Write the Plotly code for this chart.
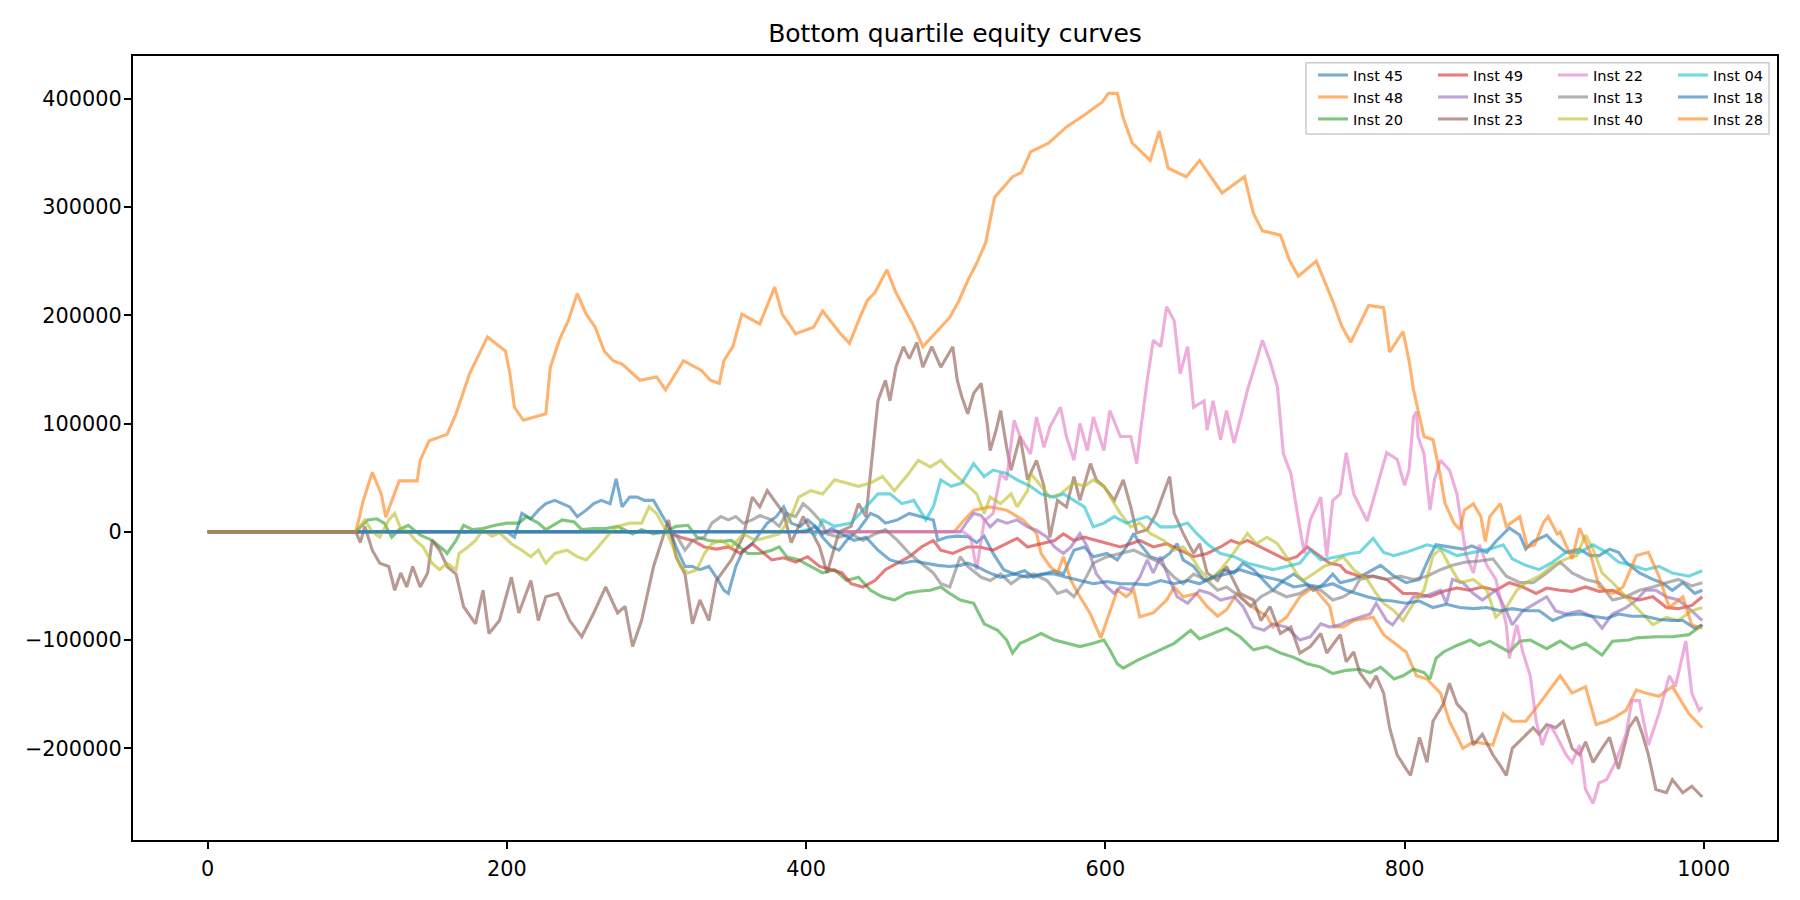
import plotly.graph_objects as go

# ---------------- data (step index, equity) ----------------
inst_45 = [(0,0),(200,0),(205,-5000),(210,17000),(216,12000),(221,20000),(226,26000),(232,29000),(237,26000),(242,23000),(247,14000),(253,20000),(258,26000),(263,29000),(269,26000),(273,49000),(277,23000),(282,32000),(287,32000),(292,29000),(298,29000),(303,17000),(308,5000),(313,-14000),(319,-32000),(324,-32000),(329,-35000),(335,-32000),(340,-42000),(345,-54000),(348,-57000),(353,-32000),(358,-17000),(364,-11000),(369,-2000),(374,8000),(380,14000),(385,23000),(390,8000),(396,5000),(401,11000),(406,5000),(411,-5000),(417,-14000),(422,-17000),(427,-8000),(435,2000),(443,17000),(448,14000),(453,8000),(461,11000),(469,17000),(477,14000),(485,11000),(488,-8000),(494,-5000),(501,-4000),(508,-4500),(514,-10000),(519,-4000),(525,-20000),(532,-35000),(539,-39000),(546,-36000),(552,-42000),(559,-39000),(566,-36000),(572,-39000),(579,-17000),(586,-14000),(592,-23000),(601,-20000),(608,-26000),(614,-14000),(619,-1500),(623,-11000),(630,-23000),(637,-26000),(643,-20000),(648,-11000),(652,-26000),(659,-32000),(666,-45000),(672,-42000),(679,-35000),(686,-38000),(692,-29000),(699,-35000),(706,-45000),(712,-54000),(719,-45000),(726,-39000),(732,-45000),(739,-54000),(746,-48000),(752,-39000),(757,-47000),(766,-44000),(775,-38000),(784,-31000),(793,-41000),(801,-47000),(810,-44000),(817,-22000),(821,-12000),(830,-14000),(839,-16000),(845,-13000),(850,-16000),(855,-19000),(861,-9000),(870,3500),(877,-3000),(881,-16000),(886,-9000),(895,-3000),(899,-9000),(908,-19000),(917,-16000),(924,-22000),(930,-22000),(937,-16000),(943,-19000),(948,-28000),(957,-38000),(966,-44000),(972,-47000),(979,-54000),(986,-47000),(994,-57000),(999,-54000)]

inst_48 = [(0,0),(499,0),(505,10000),(512,20000),(523,23000),(534,20000),(545,11000),(554,-1500),(557,-20000),(563,-32000),(568,-38000),(572,-23000),(577,-45000),(583,-60000),(590,-76000),(597,-98000),(601,-82000),(608,-54000),(614,-60000),(619,-54000),(623,-78500),(632,-75000),(641,-63000),(646,-51000),(652,-60000),(661,-57000),(668,-69000),(675,-78000),(681,-72000),(688,-57000),(695,-66000),(701,-72000),(708,-78000),(712,-88000),(721,-79000),(730,-60000),(739,-51000),(750,-69000),(753,-88000),(759,-88000),(766,-82000),(779,-79000),(786,-95000),(801,-111000),(808,-133000),(815,-136000),(824,-149000),(830,-175000),(839,-200000),(846,-194000),(859,-197000),(866,-168000),(872,-175000),(881,-175000),(890,-159000),(899,-143000),(904,-133000),(912,-149000),(921,-143000),(928,-178000),(935,-175000),(941,-171000),(948,-165000),(955,-146000),(961,-149000),(970,-152000),(979,-143000),(990,-168000),(999,-181000)]

inst_20 = [(0,0),(99,0),(107,11000),(113,12000),(118,8000),(123,-5000),(128,2000),(134,6000),(142,-3000),(150,-8000),(158,-17000),(160,-20000),(166,-8000),(171,6000),(177,2000),(184,3000),(192,6000),(200,8000),(208,8000),(213,14000),(221,8000),(226,2000),(237,11000),(245,9000),(250,2000),(258,3000),(266,3000),(274,5000),(284,-2000),(290,2000),(298,-2000),(306,0),(313,5000),(321,6000),(327,-5000),(335,-8000),(343,-9000),(350,-8000),(361,-20000),(369,-20000),(377,-17000),(382,-14000),(387,-23000),(395,-26000),(403,-32000),(411,-38000),(419,-35000),(427,-45000),(435,-42000),(443,-54000),(451,-60000),(459,-63000),(467,-57000),(475,-55000),(483,-54000),(490,-51000),(496,-57000),(503,-63000),(512,-66000),(519,-85000),(528,-91000),(534,-100000),(538,-112000),(543,-103000),(548,-100000),(557,-94000),(566,-100000),(574,-103000),(583,-106000),(592,-103000),(599,-100000),(603,-109000),(608,-122000),(612,-126000),(621,-119000),(632,-112000),(646,-103000),(657,-91000),(663,-99000),(672,-94000),(681,-89000),(690,-97000),(699,-109000),(708,-106000),(717,-112000),(726,-116000),(735,-122000),(744,-125000),(752,-131000),(761,-128000),(770,-127000),(777,-130000),(784,-125000),(793,-136000),(799,-133000),(806,-127000),(813,-130000),(817,-136000),(821,-117000),(826,-111000),(835,-105000),(844,-100000),(850,-105000),(857,-101000),(866,-108000),(870,-111000),(877,-101000),(884,-100000),(895,-108000),(904,-101000),(912,-108000),(921,-103000),(932,-114000),(939,-101000),(950,-100000),(955,-98000),(968,-97000),(979,-97000),(990,-95000),(999,-86000)]

inst_49 = [(0,0),(308,0),(316,-5000),(324,-8000),(332,-14000),(340,-16000),(348,-14000),(356,-20000),(364,-11000),(369,-17000),(377,-26000),(385,-24000),(393,-28000),(401,-23000),(409,-32000),(417,-35000),(424,-38000),(430,-48000),(438,-51000),(446,-45000),(453,-35000),(461,-29000),(469,-23000),(477,-14000),(485,-8000),(490,-17000),(498,-20000),(508,-14000),(516,-14000),(525,-17000),(534,-11000),(541,-6000),(548,-14000),(557,-11000),(566,-8000),(572,-2000),(579,-8000),(586,-5000),(594,-8000),(603,-11000),(610,-14000),(617,-11000),(623,-8000),(632,-14000),(641,-11000),(650,-17000),(659,-23000),(668,-20000),(677,-14000),(684,-8000),(690,-11000),(695,-8000),(704,-14000),(712,-20000),(721,-26000),(728,-23000),(735,-14000),(741,-20000),(750,-29000),(757,-31000),(761,-37000),(770,-41000),(779,-41000),(788,-44000),(799,-57000),(808,-57000),(817,-60000),(826,-55000),(835,-52000),(843,-54000),(852,-51000),(861,-54000),(870,-47000),(879,-51000),(888,-57000),(895,-52000),(904,-54000),(912,-55000),(921,-51000),(930,-55000),(939,-54000),(948,-60000),(957,-63000),(966,-60000),(975,-70000),(983,-71000),(992,-68000),(999,-60000)]

inst_35 = [(0,0),(503,0),(508,10000),(512,17000),(517,15000),(523,4500),(528,11000),(534,8000),(541,11000),(548,4500),(554,1500),(561,-5000),(566,-14000),(572,-20000),(577,-14000),(583,-1500),(588,-14000),(594,-39000),(601,-51000),(606,-57000),(610,-51000),(617,-54000),(623,-42000),(628,-26000),(632,-38000),(637,-23000),(643,-45000),(648,-60000),(655,-66000),(663,-54000),(670,-57000),(677,-63000),(686,-60000),(692,-69000),(699,-88000),(706,-91000),(712,-85000),(721,-88000),(730,-100000),(737,-97000),(744,-85000),(750,-88000),(757,-86000),(761,-83000),(770,-79000),(777,-76000),(781,-66000),(788,-82000),(792,-86000),(799,-73000),(806,-60000),(813,-60000),(817,-58000),(824,-54000),(828,-66000),(832,-44000),(839,-47000),(846,-57000),(852,-63000),(861,-54000),(868,-73000),(872,-86000),(879,-73000),(888,-66000),(895,-60000),(901,-73000),(908,-76000),(917,-73000),(926,-79000),(932,-89000),(939,-76000),(948,-70000),(955,-63000),(961,-54000),(968,-54000),(975,-60000),(983,-63000),(992,-73000),(999,-82000)]

inst_23 = [(0,0),(99,0),(102,-10000),(105,5000),(110,-17000),(115,-29000),(121,-32000),(125,-54000),(129,-38000),(133,-51000),(137,-32000),(142,-51000),(147,-38000),(150,-8000),(155,-17000),(160,-32000),(166,-39000),(171,-69000),(179,-85000),(184,-54000),(188,-94000),(195,-82000),(203,-42000),(208,-75000),(216,-45000),(221,-82000),(226,-60000),(234,-57000),(242,-82000),(250,-97000),(258,-75000),(266,-51000),(274,-75000),(279,-69000),(284,-106000),(290,-82000),(298,-32000),(303,-11000),(308,11000),(313,-23000),(319,-39000),(324,-85000),(329,-63000),(335,-82000),(340,-45000),(350,-26000),(358,-4000),(364,32000),(369,23000),(374,38000),(380,26000),(385,17000),(390,-10000),(398,14000),(403,2000),(409,-14000),(414,-38000),(422,0),(430,5000),(435,26000),(440,14000),(443,52000),(446,91000),(448,121000),(453,140000),(456,121000),(460,152000),(465,171000),(469,160000),(474,175000),(478,152000),(484,171000),(490,152000),(498,171000),(501,140000),(504,125000),(508,109000),(512,128000),(517,137000),(521,100000),(523,75000),(527,94000),(530,112000),(534,78000),(537,57000),(543,88000),(548,48000),(554,66000),(559,42000),(563,-5000),(568,29000),(574,23000),(579,51000),(583,29000),(590,63000),(594,48000),(599,42000),(606,29000),(612,48000),(617,23000),(621,-1000),(628,2000),(634,17000),(639,35000),(643,51000),(646,17000),(652,-1500),(659,-20000),(663,-11000),(668,-38000),(675,-45000),(681,-32000),(690,-57000),(699,-63000),(704,-82000),(710,-69000),(717,-94000),(724,-88000),(730,-112000),(737,-106000),(744,-94000),(748,-112000),(757,-95000),(761,-120000),(766,-111000),(770,-130000),(777,-143000),(781,-133000),(786,-149000),(790,-181000),(795,-206000),(801,-219000),(804,-225000),(810,-190000),(815,-213000),(819,-175000),(826,-159000),(830,-140000),(835,-159000),(841,-168000),(846,-197000),(852,-187000),(859,-206000),(864,-216000),(868,-225000),(872,-200000),(879,-190000),(886,-181000),(890,-187000),(895,-178000),(901,-181000),(906,-175000),(912,-200000),(917,-206000),(921,-194000),(926,-213000),(932,-200000),(937,-190000),(943,-219000),(950,-181000),(955,-171000),(959,-187000),(963,-206000),(968,-238000),(975,-241000),(979,-229000),(986,-241000),(992,-235000),(999,-245000)]

inst_22 = [(0,0),(505,0),(510,-5000),(514,-35000),(519,10000),(525,17000),(530,54000),(534,48000),(539,103000),(543,88000),(550,72000),(554,106000),(559,78000),(563,97000),(570,115000),(574,88000),(579,66000),(583,100000),(588,75000),(592,106000),(599,75000),(603,112000),(610,88000),(617,88000),(621,63000),(623,88000),(628,140000),(632,177000),(637,171000),(641,208000),(646,195000),(650,146000),(655,171000),(659,115000),(666,121000),(668,94000),(672,121000),(677,85000),(681,112000),(686,82000),(690,103000),(695,131000),(701,158000),(705,177000),(710,158000),(715,134000),(719,72000),(724,54000),(728,20000),(733,-20000),(737,11000),(744,32000),(748,-23000),(752,29000),(757,35000),(761,73000),(766,35000),(775,10000),(779,29000),(788,73000),(795,67000),(800,43000),(803,57000),(806,106000),(808,111000),(809,88000),(813,72000),(817,20000),(820,48000),(824,66000),(830,57000),(835,35000),(838,8000),(841,-21000),(846,-38000),(850,-12000),(855,-31000),(861,-44000),(868,-86000),(870,-117000),(875,-86000),(879,-111000),(884,-133000),(888,-175000),(892,-197000),(897,-178000),(901,-187000),(908,-206000),(912,-213000),(917,-197000),(921,-238000),(926,-251000),(930,-232000),(935,-229000),(941,-213000),(948,-187000),(952,-156000),(957,-156000),(963,-197000),(970,-168000),(977,-133000),(981,-143000),(988,-101000),(992,-149000),(997,-165000),(999,-162000)]

inst_13 = [(0,0),(308,0),(314,-5000),(319,-17000),(324,-8000),(332,-5000),(337,8000),(343,14000),(348,11000),(353,14000),(358,8000),(364,11000),(369,15000),(377,11000),(382,5000),(387,17000),(393,14000),(398,26000),(403,20000),(409,11000),(414,-2000),(422,-5000),(430,-2000),(438,-8000),(446,-2000),(453,2000),(461,-8000),(469,-20000),(477,-29000),(485,-38000),(490,-48000),(496,-51000),(503,-23000),(508,-32000),(517,-42000),(523,-45000),(530,-39000),(537,-48000),(543,-42000),(552,-39000),(561,-45000),(568,-57000),(574,-54000),(579,-60000),(586,-45000),(592,-29000),(601,-23000),(610,-20000),(619,-17000),(628,-23000),(637,-29000),(646,-42000),(652,-48000),(659,-39000),(668,-45000),(675,-54000),(681,-51000),(690,-60000),(697,-69000),(704,-60000),(712,-54000),(721,-60000),(730,-57000),(737,-51000),(744,-54000),(752,-63000),(759,-60000),(766,-54000),(770,-44000),(779,-41000),(788,-44000),(797,-41000),(806,-44000),(815,-41000),(824,-35000),(832,-31000),(841,-28000),(850,-27000),(859,-25000),(868,-41000),(877,-47000),(886,-47000),(895,-38000),(904,-28000),(912,-38000),(921,-44000),(930,-47000),(939,-63000),(948,-60000),(957,-54000),(966,-51000),(975,-47000),(983,-44000),(992,-50000),(999,-47000)]

inst_40 = [(0,0),(99,0),(105,11000),(110,0),(115,-5000),(121,11000),(125,17000),(129,3000),(134,0),(139,-8000),(144,-14000),(150,-29000),(155,-35000),(160,-29000),(166,-35000),(168,-20000),(174,-14000),(179,-8000),(184,2000),(190,-4000),(195,-1000),(203,-11000),(210,-17000),(216,-23000),(221,-17000),(226,-29000),(232,-20000),(240,-17000),(247,-23000),(253,-26000),(261,-14000),(269,-1000),(274,5000),(282,8000),(290,8000),(295,23000),(300,17000),(306,2000),(311,-14000),(316,-32000),(321,-38000),(327,-35000),(332,-20000),(337,-11000),(343,-8000),(350,-14000),(358,-2000),(366,-8000),(374,-5000),(382,-2000),(390,14000),(395,32000),(403,38000),(411,35000),(419,48000),(427,45000),(435,42000),(443,45000),(451,51000),(459,38000),(467,51000),(475,66000),(483,60000),(490,66000),(494,60000),(501,51000),(508,42000),(514,35000),(519,17000),(523,32000),(530,26000),(537,35000),(541,23000),(548,38000),(550,54000),(557,42000),(563,32000),(570,35000),(579,45000),(586,42000),(592,48000),(599,42000),(606,26000),(610,17000),(617,4500),(623,8000),(630,-1500),(639,-8000),(646,-17000),(652,-14000),(659,-26000),(663,-35000),(670,-45000),(677,-35000),(684,-23000),(690,-11000),(695,-1500),(701,-11000),(708,-5000),(715,-11000),(721,-23000),(728,-39000),(732,-45000),(739,-39000),(746,-32000),(752,-29000),(759,-23000),(766,-35000),(775,-44000),(781,-57000),(786,-66000),(793,-73000),(799,-82000),(806,-66000),(813,-54000),(819,-22000),(824,-16000),(830,-31000),(837,-47000),(846,-44000),(855,-54000),(861,-79000),(868,-70000),(875,-54000),(881,-47000),(890,-41000),(899,-31000),(908,-25000),(915,-22000),(921,-3000),(926,-16000),(932,-38000),(939,-47000),(948,-60000),(957,-73000),(966,-86000),(975,-79000),(983,-82000),(992,-73000),(999,-70000)]

inst_04 = [(0,0),(395,0),(401,2000),(406,-3000),(411,11000),(419,5000),(430,8000),(440,23000),(448,35000),(456,35000),(464,26000),(472,29000),(480,11000),(485,23000),(490,48000),(497,42000),(504,45000),(512,63000),(519,51000),(525,57000),(534,54000),(541,48000),(550,42000),(557,35000),(566,32000),(572,35000),(579,29000),(586,23000),(592,4500),(599,8000),(606,14000),(614,8000),(621,11000),(628,14000),(637,4500),(646,4500),(655,8000),(661,-1500),(668,-11000),(677,-20000),(686,-23000),(695,-29000),(704,-32000),(712,-35000),(721,-32000),(730,-29000),(737,-17000),(744,-26000),(755,-23000),(764,-20000),(770,-19000),(779,-6000),(786,-19000),(793,-22000),(801,-19000),(815,-12000),(824,-15000),(835,-22000),(846,-19000),(857,-16000),(866,-12000),(872,-25000),(881,-31000),(890,-35000),(899,-28000),(908,-19000),(917,-19000),(926,-12000),(935,-19000),(943,-28000),(952,-31000),(961,-35000),(970,-32000),(979,-38000),(990,-41000),(999,-36000)]

inst_18 = [(0,0),(400,0),(406,5000),(411,-2000),(417,3000),(425,-3000),(432,-8000),(440,-5000),(448,-17000),(456,-26000),(464,-29000),(472,-27000),(480,-29000),(488,-31000),(496,-32000),(503,-31000),(508,-29000),(514,-32000),(521,-37000),(530,-42000),(539,-39000),(548,-42000),(557,-39000),(566,-39000),(574,-42000),(583,-45000),(592,-48000),(601,-46000),(610,-48000),(619,-48000),(628,-49000),(637,-45000),(646,-48000),(655,-45000),(663,-48000),(672,-42000),(681,-39000),(690,-35000),(699,-39000),(708,-42000),(717,-45000),(726,-51000),(735,-49000),(744,-51000),(752,-48000),(761,-54000),(768,-57000),(775,-60000),(784,-63000),(792,-64000),(801,-66000),(810,-64000),(819,-70000),(828,-67000),(837,-70000),(846,-71000),(855,-70000),(864,-73000),(872,-71000),(881,-73000),(890,-73000),(899,-82000),(908,-77000),(917,-76000),(926,-78000),(935,-80000),(943,-76000),(952,-78000),(961,-78000),(970,-81000),(979,-82000),(986,-82000),(994,-89000),(999,-86000)]

inst_28 = [(0,0),(99,0),(104,29000),(110,55000),(116,35000),(119,13500),(128,47000),(140,47000),(142,66000),(148,84000),(160,90000),(166,109000),(175,146000),(187,180000),(199,167000),(202,146000),(205,115000),(211,103000),(226,109000),(229,152000),(235,177000),(241,195000),(247,220000),(253,201000),(259,189000),(265,167000),(271,158000),(277,155000),(289,140000),(300,143000),(306,131000),(318,158000),(330,149000),(336,140000),(342,137000),(345,158000),(351,171000),(357,201000),(369,192000),(379,226000),(384,201000),(393,183000),(405,189000),(411,204000),(423,183000),(429,174000),(435,195000),(441,214000),(446,221000),(454,242000),(460,221000),(472,190000),(478,171000),(496,198000),(502,213000),(508,232000),(514,248000),(520,267000),(526,309000),(538,328000),(544,332000),(550,351000),(562,359000),(574,374000),(586,385000),(598,397000),(602,405000),(608,405000),(612,382000),(618,359000),(630,343000),(636,370000),(642,336000),(654,328000),(663,343000),(678,313000),(693,328000),(699,294000),(705,278000),(717,274000),(723,251000),(729,236000),(741,250000),(752,213000),(758,190000),(764,175000),(776,209000),(786,207000),(790,166000),(799,185000),(803,158000),(806,131000),(813,88000),(819,85000),(824,51000),(827,26500),(833,8000),(837,2000),(840,20000),(846,26000),(851,14000),(854,-9000),(857,14000),(864,26000),(868,5000),(877,14000),(882,-14000),(887,-12000),(893,9000),(896,14000),(902,-2000),(904,0),(912,-25000),(917,3500),(924,-19000),(930,-51000),(939,-57000),(946,-51000),(955,-22000),(963,-19000),(970,-41000),(977,-70000),(986,-60000),(992,-86000),(999,-89000)]

# plotting order (as in the reference) and legend columns
series_names = ["Inst 45", "Inst 48", "Inst 20", "Inst 49", "Inst 35", "Inst 23",
                "Inst 22", "Inst 13", "Inst 40", "Inst 04", "Inst 18", "Inst 28"]
series_data = [inst_45, inst_48, inst_20, inst_49, inst_35, inst_23,
               inst_22, inst_13, inst_40, inst_04, inst_18, inst_28]
series_colors = ["#1f77b4", "#ff7f0e", "#2ca02c", "#d62728", "#9467bd", "#8c564b",
                 "#e377c2", "#7f7f7f", "#bcbd22", "#17becf", "#1f77b4", "#ff7f0e"]

x_tick_vals = [0, 200, 400, 600, 800, 1000]
x_tick_text = ["0", "200", "400", "600", "800", "1000"]
y_tick_vals = [-200000, -100000, 0, 100000, 200000, 300000, 400000]
y_tick_text = ["\u2212200000", "\u2212100000", "0", "100000", "200000", "300000", "400000"]

title_text = "Bottom quartile equity curves"

# ---------------- figure ----------------
# the page body has an 8px margin, so the figure is made 16px smaller
OFF = 8
W, H = 1800 - 2 * OFF, 900 - 2 * OFF
ML, MR, MT, MB = 133 - OFF, 1800 - 1777 - OFF, 56 - OFF, 900 - 840 - OFF
PW, PH = W - ML - MR, H - MT - MB

legend_ids = ["legend", "legend2", "legend3", "legend4"]

fig = go.Figure()
for i, (name, data, col) in enumerate(zip(series_names, series_data, series_colors)):
    xs = [p[0] for p in data]
    ys = [p[1] for p in data]
    fig.add_trace(go.Scatter(
        x=xs, y=ys, mode="lines", name=name,
        line=dict(color=col, width=3.1),
        opacity=0.6,
        legend=legend_ids[i // 3],
        hoverinfo="skip",
    ))

FONT = "DejaVu Sans, Verdana, sans-serif"

def px_to_paper_x(px):   # px in page coordinates
    return (px - OFF - ML) / PW

def px_to_paper_y(py):
    return (OFF + H - MB - py) / PH

leg_common = dict(
    font=dict(family=FONT, size=14.6, color="black"),
    bgcolor="rgba(0,0,0,0)", borderwidth=0,
    xanchor="left", yanchor="top", orientation="v",
    itemclick=False, itemdoubleclick=False,
)
col_lefts = [1313, 1433, 1553, 1673]
legend_layout = {}
for lid, cl in zip(legend_ids, col_lefts):
    legend_layout[lid] = dict(x=px_to_paper_x(cl), y=px_to_paper_y(59), **leg_common)

fig.update_layout(
    width=W, height=H,
    margin=dict(l=ML, r=MR, t=MT, b=MB, pad=0),
    paper_bgcolor="white", plot_bgcolor="white",
    font=dict(family=FONT, size=20.8, color="black"),
    title=dict(text=title_text, x=0.5, xref="paper", xanchor="center",
               y=1, yref="paper", yanchor="bottom", pad=dict(b=14),
               font=dict(family=FONT, size=25, color="black")),
    showlegend=True,
    **legend_layout,
)

axis_common = dict(
    showgrid=False, zeroline=False,
    showline=True, linecolor="black", linewidth=1.67, mirror=True,
    ticks="outside", ticklen=7.3, tickwidth=1.67, tickcolor="black",
    tickfont=dict(family=FONT, size=20.8, color="black"),
)
fig.update_xaxes(range=[-49.95, 1048.95], tickmode="array",
                 tickvals=x_tick_vals, ticktext=x_tick_text,
                 ticklabelstandoff=2, **axis_common)
fig.update_yaxes(range=[-284700, 439500], tickmode="array",
                 tickvals=y_tick_vals, ticktext=y_tick_text,
                 ticklabelstandoff=-2, **axis_common)

# legend frame (matplotlib style box)
fig.add_shape(type="rect", xref="paper", yref="paper",
              x0=px_to_paper_x(1306), x1=px_to_paper_x(1769),
              y0=px_to_paper_y(134), y1=px_to_paper_y(62.7),
              line=dict(color="#cccccc", width=1.5),
              fillcolor="rgba(255,255,255,0.8)", layer="above")

fig.write_html("out.html")
